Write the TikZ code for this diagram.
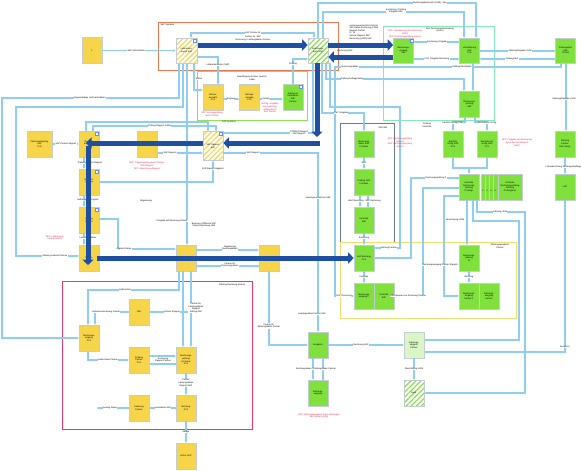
\documentclass[tikz,border=0pt]{standalone}
\usepackage{fontspec}
\setmainfont{Liberation Sans}
\usetikzlibrary{arrows.meta,patterns.meta}
\definecolor{ybox}{HTML}{F6D54A}
\definecolor{gbox}{HTML}{80E03C}
\definecolor{lblue}{HTML}{8FCEEE}
\definecolor{dblue}{HTML}{1D4FA3}
\definecolor{frorange}{HTML}{E8784E}
\definecolor{frgreen}{HTML}{8EE05A}
\definecolor{frmint}{HTML}{86E8B8}
\definecolor{frdark}{HTML}{6A7A90}
\definecolor{fryellow}{HTML}{EEDD70}
\definecolor{frred}{HTML}{E8396A}
\definecolor{redtxt}{HTML}{E8204A}
\definecolor{bord}{HTML}{C4CCD4}
\tikzset{
 every node/.style={font=\fontsize{2.2}{2.6}\selectfont, inner sep=0.3pt},
 boxbase/.style={draw=bord, line width=0.6pt, minimum width=20pt, minimum height=26pt, align=center, text width=18pt},
 yb/.style={boxbase, fill=ybox},
 gb/.style={boxbase, fill=gbox},
 hy/.style={boxbase, preaction={fill=white}, pattern={Lines[angle=45,distance=3.6pt,line width=1.1pt]}, pattern color=ybox},
 hg/.style={boxbase, preaction={fill=white}, pattern={Lines[angle=45,distance=3.6pt,line width=1.1pt]}, pattern color=gbox},
 lg/.style={boxbase, fill=gbox!30},
 icon/.style={draw=lblue!70!blue, fill=white, minimum size=3pt, inner sep=0pt, line width=0.4pt},
 conn/.style={draw=lblue, line width=1.1pt, -{Stealth[length=2.2pt,width=2.6pt]}},
 big/.style={draw=dblue, line width=5pt, -{Triangle[length=5.5pt,width=11pt]}},
 lab/.style={fill=white, align=center},
 txt/.style={align=center},
 rlab/.style={text=redtxt, align=center},
 frame/.style={line width=0.8pt},
}
\begin{document}
\begin{tikzpicture}[x=1pt,y=-1pt]
\useasboundingbox (0,0) rectangle (581,471);
\fill[white] (0,0) rectangle (581,471);
% frames
\draw[frame,frorange] (158,22) rectangle (338,70);
\draw[frame,frgreen] (197,71) rectangle (307,120);
\draw[frame,frmint] (383,26) rectangle (494,120);
\draw[frame,frdark,line width=1pt] (340,123) rectangle (394,242);
\draw[frame,fryellow] (340,242) rectangle (516,318);
\draw[frame,frred,line width=1pt] (62,281) rectangle (252,429);

% nodes
\node[yb] (Y1) at (92,50.5) {1};
\node[hy, minimum width=21pt, minimum height=25pt] (HY1) at (186.5,50.5) {Lieferanten-\\stamm SAP};
\node[hg, minimum height=25pt] (HG1) at (318,50.5) {Rechnungs-\\buch SAP};
\node[gb, minimum height=25pt] (Gre) at (403.5,50.5) {Rechnungs-\\eingang\\SAP};
\node[gb, minimum height=25pt] (Gfr) at (469.5,50.5) {Vorerfassung\\SAP\\FI-S};
\node[gb, minimum height=25pt] (Gza) at (565.5,50.5) {Zahlungslauf\\SAP\\FI-Zahl};
\node[gb] (Grp) at (469.5,104) {Rechnungs-\\prüfung\\SAP};
\node[yb] (Ya) at (213,97.5) {Partner-\\auswahl\\FI-S};
\node[yb] (Yb) at (249.5,97.5) {Auftrags-\\vergabe\\FI-S};
\node[gb] (Gc) at (293,97.5) {Auftrag an\\Lieferanten\\SAP\\Partner};
\node[yb, minimum width=25pt, text width=23pt] (Yd) at (39.5,144) {Partnerverwaltung\\SAP\\FI-S};
\node[yb] (Ye) at (89,144) {Rapport-\\erfassung\\FI};
\node[yb] (Yf) at (147,144) {Rapport};
\node[hy, minimum height=29pt] (HY2) at (213,146) {SAP Rapport\\SAP};
\node[gb] (G1) at (364,144) {Rechnungs-\\daten SAP\\FI-Daten};
\node[gb] (Gv1) at (453,144) {Sachlich\\richtig SAP\\FI-S};
\node[gb] (Gv2) at (487,144) {Rechnerisch\\richtig SAP\\FI-S};
\node[gb] (Gsap) at (565,144) {Zahlung\\Partner\\SAP Ausgl.};
\node[yb] (Yg) at (89,182) {Rapport-\\prüfung\\SAP};
\node[gb] (G2) at (364,182) {Prüfung SAP\\FI-Daten};
\node[gb] (Gk) at (469,187) {Kontrolle\\Rechnungs-\\prüfung\\FI-Ausgl.};
\node[gb, minimum width=24pt, text width=22pt] (St1) at (493,187) {};
\node[gb, minimum width=24pt, text width=22pt] (St2) at (497,187) {};
\node[gb, minimum width=24pt, text width=22pt] (St3) at (501,187) {};
\node[gb, minimum width=24pt, text width=22pt] (St4) at (505,187) {};
\node[gb, minimum width=24pt, text width=22pt] (St5) at (510,187) {Kontrolle\\Rechnungsprüfung\\Zahlung\\FI-Ausgleich};
\node[txt] (n1) at (483,191) {1};
\node[txt] (n2) at (487,191) {2};
\node[txt] (n3) at (491,191) {3};
\node[txt] (n4) at (495,191) {4};
\node[gb] (Glup) at (565,187) {LUP};
\node[yb] (Yh) at (89,220) {Auftrag\\Partner};
\node[gb] (G3) at (364,220) {Kontrolle\\SAP};
\node[yb] (Yi) at (89,258) {Partner};
\node[yb] (Yj) at (186,258) {};
\node[yb] (Yk) at (269,258) {};
\node[gb] (G4) at (364,258) {SAP Buchung\\FI-S};
\node[gb] (Gl) at (469,258) {Rechnungs-\\prüfung\\FI};
\node[gb] (Gm1a) at (364,296) {Rechnungs-\\eingang P};
\node[gb] (Gm1b) at (384,296) {Kontrolle\\SAP};
\node[gb] (Gm2a) at (469,296) {Rechnungs-\\eingang\\Partner 1};
\node[gb] (Gm2b) at (489,296) {Zahlungs-\\ausgang\\Partner};
\node[yb] (Yl) at (89,338) {Rechnungs-\\eingang\\FI-S};
\node[yb] (Yrw) at (139,312) {RW};
\node[gb] (Gn) at (318,345) {Ausgleich};
\node[lg] (HLG) at (414,345) {Zahlungs-\\abgleich\\Partner};
\node[yb] (Ym) at (139,360) {Prüfung\\Partner\\FI-S};
\node[yb] (Yn) at (186,360) {Rechnungs-\\prüfung\\\& Partner\\FI-S};
\node[gb] (Go) at (318,393) {Zahlungs-\\ausgang};
\node[hg] (HG2) at (414,393) {Bank};
\node[yb] (Yo) at (139,408) {Lieferung\\Partner};
\node[yb] (Yp) at (186,408) {Buchung\\FI-S};
\node[yb] (Yq) at (186,456) {Archiv SAP};

% icons
\node[icon] (iHY1) at (194.5,40.5) {};
\node[icon] (iHY2) at (220.5,133.5) {};
\node[icon] (iYe) at (96.5,133.5) {};
\node[icon] (iYg) at (96.5,171.5) {};
\node[icon] (iYh) at (96.5,209.5) {};
\node[icon] (iGc) at (300.5,87) {};
\node[icon] (iGre) at (411.5,40.5) {};

% connectors
\coordinate (yoend) at (97,408);
\draw[conn] (Y1.east) -- (HY1.west);
\draw[conn] (HY1.north -| 191,0) |- (314,33) -- (HG1.north -| 314,0);
\draw[conn] (HY1.south -| 179,0) |- (2,98) -- (2,338) -- (Yl.west);
\draw[conn] (HY1.south -| 183,0) |- (16,107) -- (16,256) -- (Yi.west |- 0,256);
\draw[conn] (HY1.south -| 187,0) -- (Yj.north -| 187,0);
\draw[conn] (HY1.south -| 194,0) |- (Ya.west |- 0,90);
\draw[conn] (HY1.east |- 0,57) -| (Ya.north -| 218,0);
\draw[conn] (Ya.east |- 0,99) -- (Yb.west |- 0,99);
\draw[conn] (Yb.east |- 0,99) -- (Gc.west |- 0,99);
\draw[conn] (Gc.north) |- (HG1.west |- 0,59);
\draw[conn] (HG1.north -| 318,0) |- (476,3) -- (Gfr.north -| 476,0);
\draw[conn] (HG1.north -| 323,0) |- (464,12) -- (Gfr.north -| 464,0);
\draw[conn] (Gfr.west |- 0,42) -- (Gre.east |- 0,42);
\draw[conn] (Gre.east |- 0,59) -- (Gfr.west |- 0,59);
\draw[conn] (Gfr.east |- 0,51) -- (Gza.west |- 0,51);
\draw[conn] (Gza.west |- 0,59) -- (Gfr.east |- 0,59);
\draw[conn] (Gza.south -| 561,0) |- (335,67) -- (335,296) -- (Gm1a.west);
\draw[conn] (HG1.south -| 326,0) |- (464,79) -- (Grp.north -| 464,0);
\draw[conn] (Gfr.south -| 473,0) -- (Grp.north -| 473,0);
\draw[conn] (HG1.south -| 330,0) |- (400,107) -- (400,248) -- (G4.east |- 0,248);
\draw[conn] (HG1.south -| 322,0) |- (364,113) -- (G1.north);
\draw[conn] (G1.south) -- (G2.north);
\draw[conn] (G2.south -| 360,0) -- (G3.north -| 360,0);
\draw[conn] (G3.north -| 368,0) -- (G2.south -| 368,0);
\draw[conn] (G3.south) -- (G4.north);
\draw[conn] (G4.south) -- (Gm1a.north);
\draw[conn] (HG1.south -| 313,0) |- (HY2.east |- 0,133);
\draw[conn] (HY2.east |- 0,153) -| (Gn.north -| 318,0);
\draw[conn] (Gn.south -| 313,0) -- (Go.north -| 313,0);
\draw[conn] (Go.north -| 323,0) -- (Gn.south -| 323,0);
\draw[conn] (Gn.east) -- (HLG.west);
\draw[conn] (HLG.south) -- (HG2.north);
\draw[conn] (Gk.south -| 477,0) |- (525,212) -- (525,393) -- (HG2.east);
\draw[conn] (Gk.south -| 473,0) |- (519,221) -- (519,340) -- (HLG.east |- 0,340);
\draw[conn] (Glup.south) |- (HLG.east |- 0,352);
\draw[conn] (Gza.south -| 566,0) -- (Gsap.north -| 566,0);
\draw[conn] (Gsap.south) -- (Glup.north);
\draw[conn] (Grp.south -| 465,0) |- (453,122) -- (Gv1.north);
\draw[conn] (Grp.south -| 475,0) |- (487,122) -- (Gv2.north);
\draw[conn] (Gv1.south) |- (469,168) -- (Gk.north);
\draw[draw=lblue, line width=1.1pt] (Gv2.south) |- (469,168);
\draw[conn] (Gk.west |- 0,178) -- (411,178) -- (411,258) -- (G4.east |- 0,258);
\draw[conn] (Gk.west |- 0,188) -- (423,188) -- (423,296) -- (Gm1b.east);
\draw[conn] (Gk.west |- 0,196) -- (444,196) -- (444,296) -- (Gm2a.west);
\draw[conn] (444,265) -- (Gl.west |- 0,265);
\draw[conn] (Gk.south -| 467,0) -- (Gl.north -| 467,0);
\draw[conn] (Gl.south) -- (Gm2a.north);
\draw[conn] (Yd.east) -- (Ye.west);
\draw[conn] (Ye.north -| 86,0) |- (208,122) -- (HY2.north -| 208,0);
\draw[conn] (Ye.north -| 93,0) |- (216,126) -- (HY2.north -| 216,0);
\draw[conn] (Yf.east |- 0,153) -- (HY2.west |- 0,153);
\draw[conn] (Ye.south -| 84,0) -- (Yg.north -| 84,0);
\draw[conn] (Yg.south -| 84,0) -- (Yh.north -| 84,0);
\draw[conn] (Yh.south -| 84,0) -- (Yi.north -| 84,0);
\draw[conn] (Yg.east) -| (HY2.south);
\draw[conn] (Yh.east |- 0,219) -- (118,219) |- (Yj.west |- 0,249);
\draw[conn] (Yj.east |- 0,250) -- (Yk.west |- 0,250);
\draw[conn] (Yk.west |- 0,266) -- (Yj.east |- 0,266);
\draw[conn] (Yk.south) |- (Gn.west);
\draw[conn] (Yj.south -| 179,0) |- (88,290) -- (Yl.north -| 88,0);
\draw[conn] (Yj.south -| 191,0) -- (Yn.north -| 191,0);
\draw[conn] (Yj.south -| 183,0) -- (Yn.north -| 183,0);
\draw[conn] (191,312) -- (Yrw.east |- 0,312);
\draw[conn] (Yrw.west |- 0,312) -- (95,312) -- (Yl.north -| 95,0);
\draw[conn] (Yl.south -| 88,0) |- (Ym.west);
\draw[conn] (Ym.east |- 0,356) -- (Yn.west |- 0,356);
\draw[conn] (Yn.west |- 0,364) -- (Ym.east |- 0,364);
\draw[conn] (Yn.south) -- (Yp.north);
\draw[conn] (Yp.west) -- (Yo.east);
\draw[conn] (Yo.west) -- (yoend);
\draw[conn] (Yp.south) -- (Yq.north);

% labels on connectors
\node[lab] (lb1) at (136,50.5) {SAP-Schnittstelle};
\node[lab] (lb2) at (253,33) {SAP Partner-Nr.};
\node[txt] (lb3) at (253,38.5) {Partner Nr. SAP\\Rechnung / Leistungsdaten Partner};
\node[lab] (lb4) at (90,98) {Eigenständige Lieferantendaten};
\node[lab] (lb5) at (55,256) {Zahlung Lieferant Partner};
\node[lab] (lb6) at (199,79) {Status};
\node[lab] (lb7) at (218,65) {Lieferantenkonto (SAP)};
\node[lab] (lb8) at (231,99) {Eingang};
\node[lab] (lb9) at (266,99) {Vertrag};
\node[lab] (lb10) at (293,64) {Prüfung};
\node[txt] (lb11) at (345,51) {Rechnung SAP};
\node[txt, anchor=west, align=left] (lb12) at (349,32) {Leistungsverzeichnis Partner\\SAP Daten Rechnung (LS/M)\\Rapport Partner\\Pr. Nr.\\Partner Rapport SAP\\Rechnung (LS/M) SAP};
\node[lab] (lb13) at (430,3) {Rechnungsdatensatz (LS/M) - Neu};
\node[lab] (lb14) at (396,11) {Kontierung / Prüfung\\Freigabe SAP};
\node[lab] (lb15) at (437,42) {Kontierung Freigabe};
\node[lab] (lb16) at (437,59) {Prüf. Freigabe Rechnung};
\node[lab] (lb17) at (520,51) {Zahlungsfreigabe LS/M};
\node[lab] (lb18) at (512,59) {Zahlungslauf};
\node[lab] (lb19) at (462,67) {Zahlung/Rückläufer};
\node[lab] (lb20) at (350,67) {Rechnungsdaten};
\node[lab] (lb21) at (352,79) {Prüfung Auftragsstatus};
\node[lab] (lb22) at (564,99) {Zahlungsfreigabe LS/M};
\node[lab] (lb23) at (564,167) {Lohnabrechnung Zahlungsempfänger};
\node[lab] (lb24) at (453,123) {Sachlich richtig (FiBu)};
\node[lab] (lb25) at (487,123) {Rechnerisch richtig};
\node[txt] (lb26) at (427,125) {Prüfung\\Kontrolle};
\node[lab] (lb27) at (341,113) {Prüf. Freigabe};
\node[lab] (lb28) at (299,133) {STORNO Rapport\\SAP Rapport};
\node[lab] (lb29) at (253,153) {SAP Rapport};
\node[lab] (lb30) at (318,198) {Leistungsverzeichnis SAP};
\node[lab] (lb31) at (364,163) {Wert};
\node[lab] (lb32) at (356,201) {Wert Rechnung};
\node[lab] (lb32b) at (373,201) {SAP Rechnung};
\node[lab] (lb33) at (364,238) {Rechnung};
\node[lab] (lb34) at (364,277) {Freigabe};
\node[lab] (lb35) at (436,178) {Rechnungsprüfung P};
\node[lab] (lb36) at (389,248) {Zahlung Partner};
\node[lab] (lb37) at (408,296) {Informationen zur Rechnung Partner};
\node[lab] (lb38) at (344,296) {Prüf. Rechnung};
\node[lab] (lb39) at (440,265) {Rechnungseingang Partner Rapport};
\node[lab] (lb40) at (469,277) {Buchung};
\node[lab] (lb41) at (500,212) {Zahlung LS/M};
\node[lab] (lb42) at (455,220) {Verrechnung LS/M};
\node[lab] (lb43) at (565,347) {Ausgleich};
\node[lab] (lb44) at (312,314) {Leistungsdaten Partner SAP};
\node[lab] (lb45) at (316,369) {Buchungsdaten / Zahlungsdaten Partner};
\node[lab] (lb46) at (361,345) {Rechnung SAP};
\node[lab] (lb47) at (414,369) {Übermittlung LS/M};
\node[lab] (lb48) at (269,326) {Partner-Nr.\\Zahlungsdaten Partner};
\node[lab] (lb49) at (230,248) {Regulierung\\Buchungsdaten};
\node[lab] (lb50) at (230,265) {Partner-Nr.\\Rechnungsdaten};
\node[lab] (lb51) at (66,144) {SAP Partner Rapport};
\node[lab] (lb52) at (90,163) {Prüfungsrapport Rapport};
\node[lab] (lb53) at (88,200) {Auftraggeber Rapport};
\node[lab] (lb54) at (88,238) {Lieferantendaten};
\node[lab] (lb55) at (213,169) {Prüf Rapport Abgleich};
\node[lab] (lb56) at (160,126) {Prüfung Rapport Auftrag};
\node[lab] (lb57) at (170,153) {SAP Rapport};
\node[lab] (lb58) at (124,249) {Abgleich Daten};
\node[txt] (lb59) at (146,201) {Regulierung};
\node[lab] (lb60) at (172,221) {Freigabe auf Rechnung Partner};
\node[lab] (lb61) at (204,225) {Buchung / Differenz SAP\\Partner Rechnung SAP};
\node[lab] (lb62) at (125,290) {Lieferschein};
\node[lab] (lb63) at (106,312) {Lieferantenrechnung Partner};
\node[lab] (lb64) at (172,312) {Partner Rapport};
\node[lab] (lb65) at (196,308) {Partner-Nr.\\Leistungsdaten\\Rapport\\Auftrag SAP};
\node[lab] (lb66) at (108,360) {Lieferschein Partner};
\node[lab] (lb67) at (163,360) {Rechnung\\Rapport Partner};
\node[lab] (lb68) at (186,383) {Partner\\Leistungsdaten\\Rapport SAP};
\node[lab] (lb69) at (163,408) {Lieferdaten SAP};
\node[lab] (lb70) at (110,408) {Auszug Daten};
\node[lab] (lb71) at (186,432) {Ablage};
\node[txt] (lb72) at (229,122) {SAP Systeme};

% frame labels
\node[txt, anchor=west] (f1) at (160,25) {SAP Systeme};
\node[txt] (f2) at (252,78) {Beauftragung Partner (extern)\\Label};
\node[txt] (f3) at (440,30) {SAP Rechnungsbearbeitung\\(intern)};
\node[txt] (f4) at (383,128) {SAP BW};
\node[txt] (f5) at (500,246) {Zahlungsausgleich\\Partner};
\node[txt] (f6) at (232,285) {Prüfung Rechnung (intern)};

% red notes
\node[rlab] (r1) at (212,114) {RFP: Vertragsprüfung\\durch Partner};
\node[rlab] (r2) at (270,108) {Vertrag: Angaben\\zum Leistungs-\\umfang durch\\SAP Partner};
\node[rlab] (r3) at (405,34) {RFP: Vorerfassung der Rechnung\\(SAP)\\RFP: Rechnungsprüfung (intern)};
\node[rlab] (r4) at (147,166) {RFP: Rapportprüfung durch Partner\\SAP Rapport\\RFP: Abrechnung Rapport};
\node[rlab] (r5) at (400,143) {RFP: Rechnungsprüfung\\(extern)\\SAP: Rechnungsprüfung\\(intern)};
\node[rlab] (r6) at (517,143) {RFP: Freigabe und Kontierung\\durch den Fachbereich\\(SAP)};
\node[rlab] (r7) at (55,238) {RFP: Lieferung an\\Partner (intern)};
\node[rlab] (r8) at (319,416) {RFP: Zahlungsausgleich durch Zahlungen\\der Partner (LS/M)};

% big arrows
\draw[big] (HY1.east |- 0,45) -- (HG1.west |- 0,45);
\draw[big] (HG1.east |- 0,45) -- (Gre.west |- 0,45);
\draw[big] (Gre.west |- 0,57) -- (HG1.east |- 0,57);
\draw[big] (HG1.south -| 317,0) -- (317,137);
\draw[big] (320,143) -- (HY2.east |- 0,143);
\draw[big] (HY2.west |- 0,143) -- (86,143);
\draw[big] (88,146) -- (88,265);
\draw[big] (97,258) -- (G4.west |- 0,258);
\end{tikzpicture}
\end{document}
